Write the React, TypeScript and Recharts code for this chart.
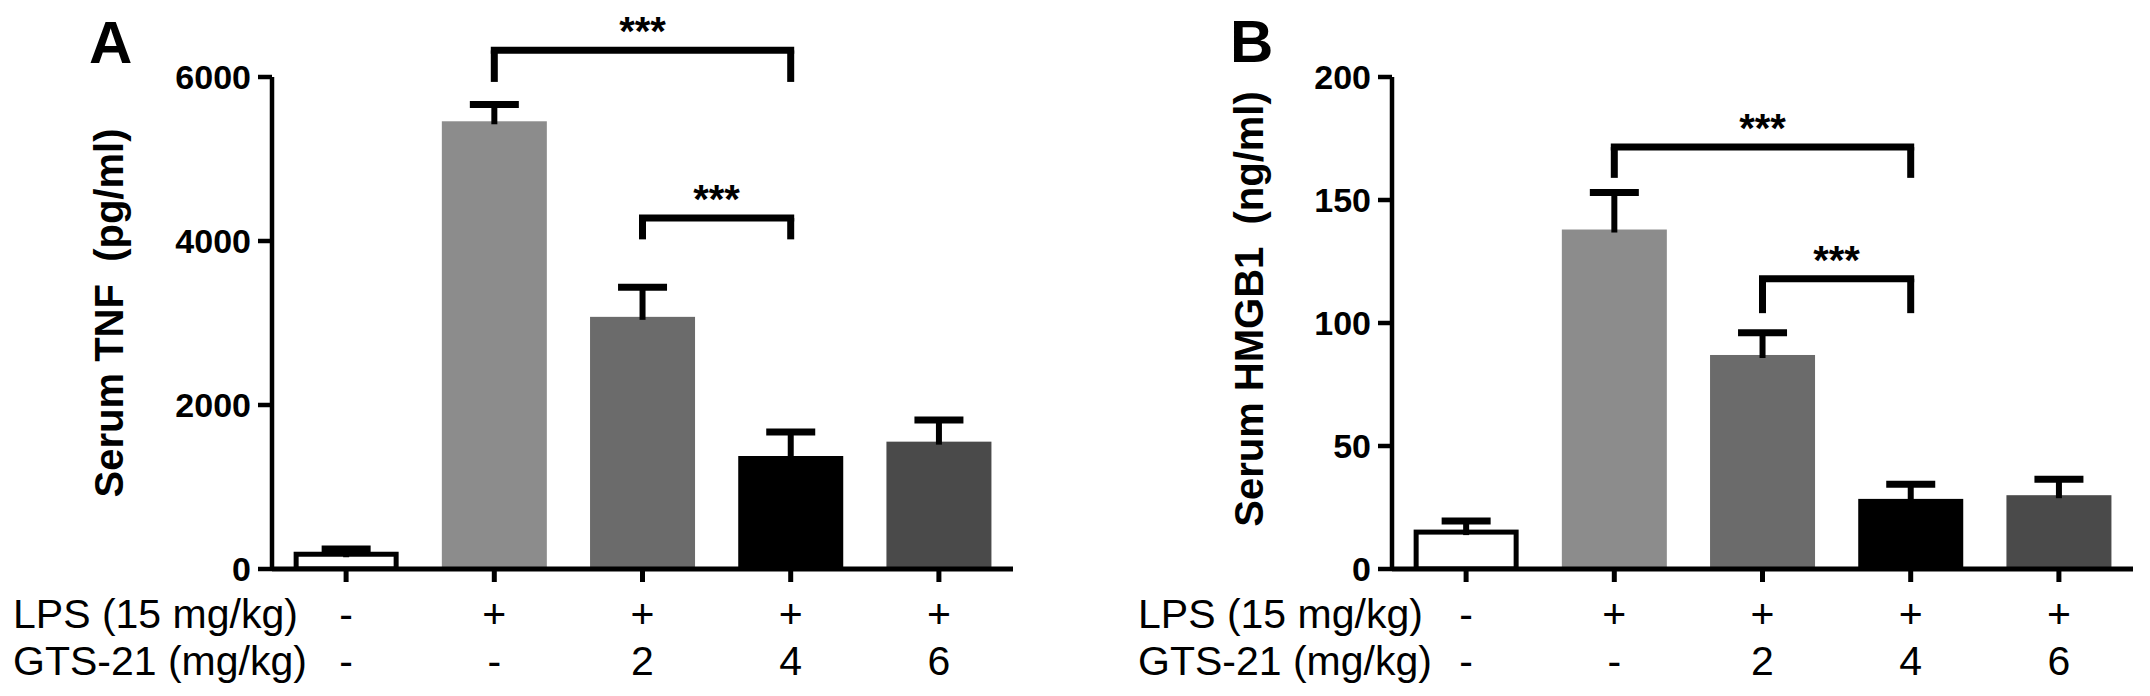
import React from "react";
import { BarChart, Bar, XAxis, YAxis, ReferenceLine } from "recharts";

const fontFamily = '"Liberation Sans", Arial, Helvetica, sans-serif';

// x categories: the two treatment rows under the axis
const lpsRow = ["-", "+", "+", "+", "+"];
const gtsRow = ["-", "-", "2", "4", "6"];
const rowLabels = ["LPS (15 mg/kg)", "GTS-21 (mg/kg)"];
const groups = lpsRow.map((l, i) => `${l}/${gtsRow[i]}`);

// panel A: serum TNF (pg/ml), mean and SEM
const tnfMean = [180, 5460, 3075, 1378, 1553];
const tnfSem = [65, 205, 360, 293, 264];
const tnfTicks = [0, 2000, 4000, 6000];

// panel B: serum HMGB1 (ng/ml), mean and SEM
const hmgbMean = [15, 138, 87, 28.5, 30];
const hmgbSem = [4.5, 15, 9, 6, 6.5];
const hmgbTicks = [0, 50, 100, 150, 200];

// significance brackets: category indexes, bar height and leg end (data units)
const tnfBrackets = [
  { from: 1, to: 3, top: 6325, leg: 5940, text: "***" },
  { from: 2, to: 3, top: 4280, leg: 4020, text: "***" },
];
const hmgbBrackets = [
  { from: 1, to: 3, top: 171.5, leg: 159, text: "***" },
  { from: 2, to: 3, top: 118, leg: 104, text: "***" },
];

const barFills = ["#ffffff", "#8c8c8c", "#6b6b6b", "#000000", "#4a4a4a"];

const BarWithError = (props: any) => {
  const { x, y, width, height, index, payload } = props;
  const cx = x + width / 2;
  const errPx = payload.value ? (payload.err / payload.value) * height : 0;
  const capY = y - errPx;
  return (
    <g>
      {index === 0 ? (
        <rect
          x={x + 2.5}
          y={y}
          width={width - 5}
          height={height}
          fill="#fff"
          stroke="#000"
          strokeWidth={5}
        />
      ) : (
        <rect x={x} y={y} width={width} height={height} fill={barFills[index]} />
      )}
      <line x1={cx} x2={cx} y1={y + 3} y2={capY} stroke="#000" strokeWidth={6} />
      <line x1={cx - 24.5} x2={cx + 24.5} y1={capY} y2={capY} stroke="#000" strokeWidth={7} />
    </g>
  );
};

const GroupTick = (props: any) => {
  const { x, y, index, rowLabelX } = props;
  const style = { fontFamily, fontSize: 41, fill: "#000" };
  return (
    <g>
      <text x={x} y={y + 44} textAnchor="middle" {...style}>
        {lpsRow[index]}
      </text>
      <text x={x} y={y + 91} textAnchor="middle" {...style}>
        {gtsRow[index]}
      </text>
      {index === 0 && (
        <>
          <text x={rowLabelX} y={y + 44} textAnchor="start" {...style}>
            {rowLabels[0]}
          </text>
          <text x={rowLabelX} y={y + 91} textAnchor="start" {...style}>
            {rowLabels[1]}
          </text>
        </>
      )}
    </g>
  );
};

const AxisTitle = (props: any) => {
  const { cx, cy, text } = props;
  return (
    <text
      x={cx}
      y={cy}
      transform={`rotate(-90, ${cx}, ${cy})`}
      textAnchor="middle"
      dominantBaseline="central"
      fontFamily={fontFamily}
      fontSize={40}
      fontWeight="bold"
      fill="#000"
    >
      {text}
    </text>
  );
};

type PanelProps = {
  left: number;
  width: number;
  yAxisWidth: number;
  marginRight: number;
  means: number[];
  sems: number[];
  ticks: number[];
  brackets: typeof tnfBrackets;
  yLabel: string;
  yLabelX: number;
  yLabelY: number;
  rowLabelX: number;
};

function Panel(p: PanelProps) {
  const data = groups.map((g, i) => ({ group: g, value: p.means[i], err: p.sems[i] }));
  const lineStyle = { stroke: "#000", strokeWidth: 7 };
  return (
    <div style={{ position: "absolute", left: p.left, top: 0 }}>
      <BarChart
        width={p.width}
        height={696}
        data={data}
        margin={{ top: 77, right: p.marginRight, bottom: 0, left: 0 }}
        barCategoryGap="14.6%"
      >
        <XAxis
          dataKey="group"
          height={127}
          interval={0}
          tickSize={13}
          axisLine={{ stroke: "#000", strokeWidth: 5 }}
          tickLine={{ stroke: "#000", strokeWidth: 5 }}
          tick={<GroupTick rowLabelX={p.rowLabelX} />}
        />
        <YAxis
          width={p.yAxisWidth}
          domain={[0, p.ticks[p.ticks.length - 1]]}
          ticks={p.ticks}
          interval={0}
          allowDataOverflow
          tickSize={14}
          tickMargin={7}
          axisLine={{ stroke: "#000", strokeWidth: 4.5 }}
          tickLine={{ stroke: "#000", strokeWidth: 4.5 }}
          tick={{ fill: "#000", fontSize: 34, fontWeight: "bold", fontFamily }}
          label={<AxisTitle cx={p.yLabelX} cy={p.yLabelY} text={p.yLabel} />}
        />
        <Bar dataKey="value" isAnimationActive={false} shape={BarWithError} />
        {p.brackets.map((b, i) => (
          <ReferenceLine
            key={`h${i}`}
            segment={[
              { x: groups[b.from], y: b.top },
              { x: groups[b.to], y: b.top },
            ]}
            {...lineStyle}
            strokeLinecap="square"
            ifOverflow="visible"
            label={{
              value: b.text,
              position: "top",
              offset: 5,
              fill: "#000",
              fontSize: 40,
              fontWeight: "bold",
              fontFamily,
            }}
          />
        ))}
        {p.brackets.map((b, i) => (
          <ReferenceLine
            key={`l${i}`}
            segment={[
              { x: groups[b.from], y: b.top },
              { x: groups[b.from], y: b.leg },
            ]}
            {...lineStyle}
            ifOverflow="visible"
          />
        ))}
        {p.brackets.map((b, i) => (
          <ReferenceLine
            key={`r${i}`}
            segment={[
              { x: groups[b.to], y: b.top },
              { x: groups[b.to], y: b.leg },
            ]}
            {...lineStyle}
            ifOverflow="visible"
          />
        ))}
      </BarChart>
    </div>
  );
}

export default function App() {
  return (
    <div
      style={{
        position: "absolute",
        left: 0,
        top: 0,
        width: 2150,
        height: 696,
        background: "#fff",
        overflow: "hidden",
      }}
    >
      <svg width={2150} height={696} style={{ position: "absolute", left: 0, top: 0 }}>
        <text x={89} y={63} fontFamily={fontFamily} fontSize={60} fontWeight="bold" fill="#000">
          A
        </text>
        <text x={1230} y={62} fontFamily={fontFamily} fontSize={60} fontWeight="bold" fill="#000">
          B
        </text>
      </svg>
      <Panel
        left={0}
        width={1040}
        yAxisWidth={272}
        marginRight={27}
        means={tnfMean}
        sems={tnfSem}
        ticks={tnfTicks}
        brackets={tnfBrackets}
        yLabel={"Serum TNF\u00a0 (pg/ml)"}
        yLabelX={109}
        yLabelY={313}
        rowLabelX={13}
      />
      <Panel
        left={1080}
        width={1070}
        yAxisWidth={312}
        marginRight={17}
        means={hmgbMean}
        sems={hmgbSem}
        ticks={hmgbTicks}
        brackets={hmgbBrackets}
        yLabel={"Serum HMGB1\u00a0 (ng/ml)"}
        yLabelX={169}
        yLabelY={309}
        rowLabelX={58}
      />
    </div>
  );
}
